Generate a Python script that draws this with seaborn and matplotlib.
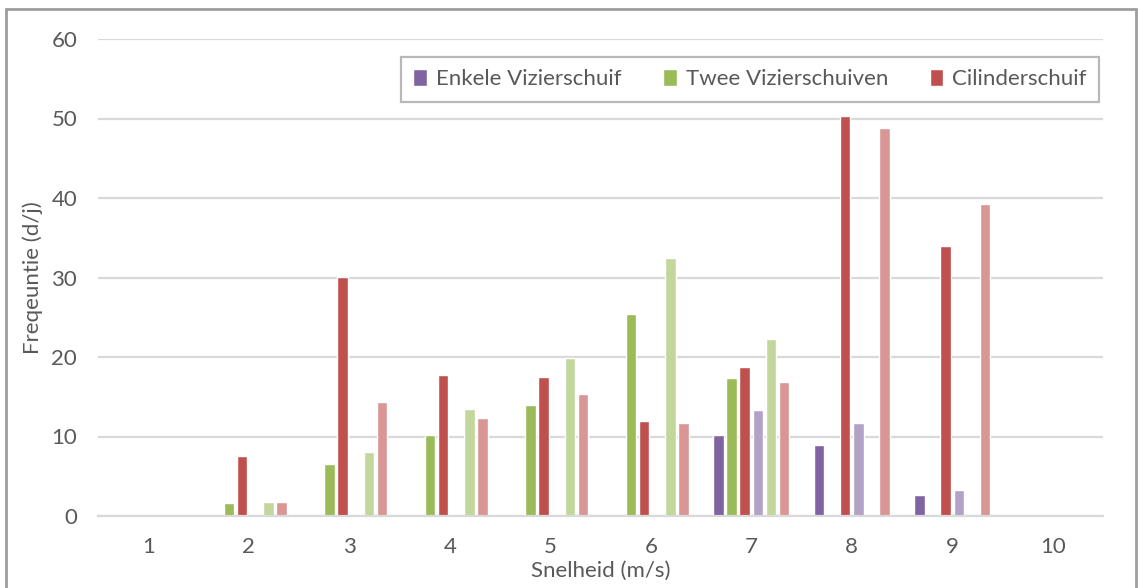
import matplotlib
matplotlib.use("Agg")
import matplotlib.pyplot as plt
import seaborn as sns
import pandas as pd
from matplotlib.lines import Line2D

categories = ["1", "2", "3", "4", "5", "6", "7", "8", "9", "10"]
series_names = ["Enkele Vizierschuif", "Twee Vizierschuiven", "Cilinderschuif",
                "Enkele Vizierschuif ", "Twee Vizierschuiven ", "Cilinderschuif "]
enkele = [0, 0, 0, 0, 0, 0, 10.2, 8.9, 2.6, 0]
twee = [0, 1.6, 6.6, 10.2, 14.0, 25.4, 17.4, 0, 0, 0]
cilinder = [0, 7.6, 30.1, 17.7, 17.5, 12.0, 18.7, 50.3, 34.0, 0]
enkele_b = [0, 0, 0, 0, 0, 0, 13.3, 11.7, 3.3, 0]
twee_b = [0, 1.8, 8.1, 13.5, 19.9, 32.4, 22.3, 0, 0, 0]
cilinder_b = [0, 1.8, 14.4, 12.3, 15.4, 11.7, 16.9, 48.8, 39.2, 0]
colors = ["#8064A2", "#9BBB59", "#C0504D", "#B3A2C7", "#C3D69B", "#D99694"]

all_vals = [enkele, twee, cilinder, enkele_b, twee_b, cilinder_b]
rows = []
for name, vals in zip(series_names, all_vals):
    for c, v in zip(categories, vals):
        rows.append({"Snelheid": c, "Frequentie": v, "Serie": name})
df = pd.DataFrame(rows)

sns.set_theme(style="white")
plt.rcParams["font.family"] = ["Lato", "DejaVu Sans"]
txt = "#595959"
grid = "#D9D9D9"
fs = 16

fig = plt.figure(figsize=(11.38, 5.88), dpi=100)
ax = fig.add_axes([98/1138, 72/588, 1005/1138, 477/588])

sns.barplot(data=df, x="Snelheid", y="Frequentie", hue="Serie", order=categories,
            hue_order=series_names, palette=colors, width=0.78, gap=0.2,
            saturation=1, ax=ax, legend=True)

ax.set_ylim(0, 60)
ax.set_xlim(-0.5, len(categories) - 0.5)
ax.set_yticks(range(0, 61, 10))
ax.yaxis.grid(True, color=grid, linewidth=1.6)
ax.set_axisbelow(True)
for s in ["top", "right", "left"]:
    ax.spines[s].set_visible(False)
ax.spines["bottom"].set_color(grid)
ax.spines["bottom"].set_linewidth(1.6)
ax.tick_params(axis="y", length=0, pad=15, labelsize=fs, labelcolor=txt)
ax.tick_params(axis="x", which="major", length=0, pad=15, labelsize=fs, labelcolor=txt)
ax.set_xticks([i + 0.5 for i in range(-1, len(categories))], minor=True)
ax.tick_params(axis="x", which="minor", length=7, width=1.6, color=grid)
ax.set_xlabel("Snelheid (m/s)", fontsize=fs, color=txt, labelpad=3)
ax.set_ylabel("Freqeuntie (d/j)", fontsize=fs, color=txt, labelpad=6)

handles, labels = ax.get_legend_handles_labels()
leg = ax.legend(handles[:3], labels[:3], loc="upper right", bbox_to_anchor=(0.996, 0.962),
                ncol=3, frameon=True, fancybox=False, edgecolor="#A6A6A6",
                fontsize=fs, handlelength=0.6, handleheight=0.75, handletextpad=0.4,
                columnspacing=1.9, borderpad=0.55, borderaxespad=0)
leg.get_frame().set_linewidth(1.6)
for t in leg.get_texts():
    t.set_color(txt)

# outer chart border
bc = "#9E9E9E"
fig.add_artist(Line2D([6/1138, 6/1138], [0, 1 - 9/588], transform=fig.transFigure, color=bc, lw=2))
fig.add_artist(Line2D([6/1138, 1136/1138], [1 - 9/588, 1 - 9/588], transform=fig.transFigure, color=bc, lw=2))
fig.add_artist(Line2D([1136/1138, 1136/1138], [0, 1 - 9/588], transform=fig.transFigure, color=bc, lw=2))

fig.savefig("out.png", dpi=100)
